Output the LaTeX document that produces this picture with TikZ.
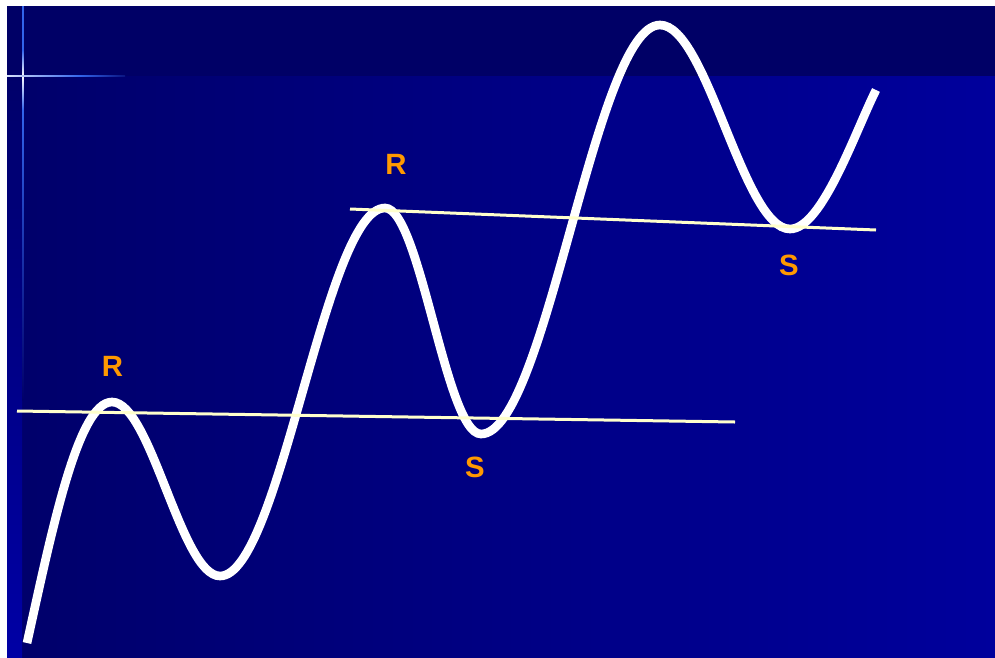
\documentclass[tikz,border=0pt]{standalone}
\usepackage{fontspec}
\setmainfont{Liberation Sans}
\usetikzlibrary{positioning}

\definecolor{topband}{RGB}{0,0,102}
\definecolor{bgleft}{RGB}{0,0,106}
\definecolor{bgright}{RGB}{0,0,156}
\definecolor{stripblue}{RGB}{0,0,165}
\definecolor{crossblue}{RGB}{50,100,235}
\definecolor{levelline}{RGB}{255,255,204}
\definecolor{labelorange}{RGB}{255,153,0}

\begin{document}
\begin{tikzpicture}[x=0.75pt, y=-0.75pt,
    level line/.style={draw=levelline, line width=2.25pt},
    price curve/.style={draw=white, line width=6.5pt},
    level label/.style={text=labelorange, inner sep=0pt, font=\bfseries\fontsize{22}{22}\selectfont}]
    \useasboundingbox (0,0) rectangle (995,657);

    % background
    \fill[white] (0,0) rectangle (995,657);
    \fill[topband] (7,6) rectangle (995,76);
    \shade[left color=bgleft, right color=bgright] (7,76) rectangle (995,657);
    \shade[top color=bgleft, bottom color=stripblue] (7,76) rectangle (22,657);

    % cross
    \fill[crossblue] (22.2,6) rectangle (23.8,50);
    \shade[top color=crossblue, bottom color=white] (22.2,50) rectangle (23.8,76);
    \shade[top color=white, bottom color=crossblue] (22.2,76) rectangle (23.8,110);
    \shade[top color=crossblue, bottom color=bgleft] (22.2,110) rectangle (23.8,400);
    \shade[left color=white!80!crossblue, right color=crossblue] (7,75.2) rectangle (80,76.8);
    \shade[left color=crossblue, right color=topband!80!crossblue] (80,75.2) rectangle (125,76.8);

    % turning points
    \coordinate (start) at (27,643);
    \coordinate (peakA) at (112,402);
    \coordinate (troughA) at (220,576);
    \coordinate (peakB) at (385,208);
    \coordinate (troughB) at (481,434);
    \coordinate (peakC) at (660,25);
    \coordinate (troughC) at (790,229);
    \coordinate (stop) at (876,90);

    \draw[price curve] (start) .. controls (52,530) and (78,402) .. (peakA)
        .. controls (151,402) and (181,576) .. (troughA)
        .. controls (280,576) and (325,208) .. (peakB)
        .. controls (420,208) and (446,434) .. (troughB)
        .. controls (546,434) and (595,25) .. (peakC)
        .. controls (707,25) and (743,229) .. (troughC)
        .. controls (822,229) and (855,132) .. (stop);

    % support and resistance lines
    \coordinate (lowA) at (17,411);
    \coordinate (lowB) at (735,422);
    \coordinate (highA) at (350,209);
    \coordinate (highB) at (876,230);
    \draw[level line] (lowA) -- (lowB);
    \draw[level line] (highA) -- (highB);

    \node[level label] (resA) at (112.5,366) {R};
    \node[level label] (resB) at (396,164) {R};
    \node[level label] (supA) at (475,467.5) {S};
    \node[level label] (supB) at (789,265) {S};
\end{tikzpicture}
\end{document}
